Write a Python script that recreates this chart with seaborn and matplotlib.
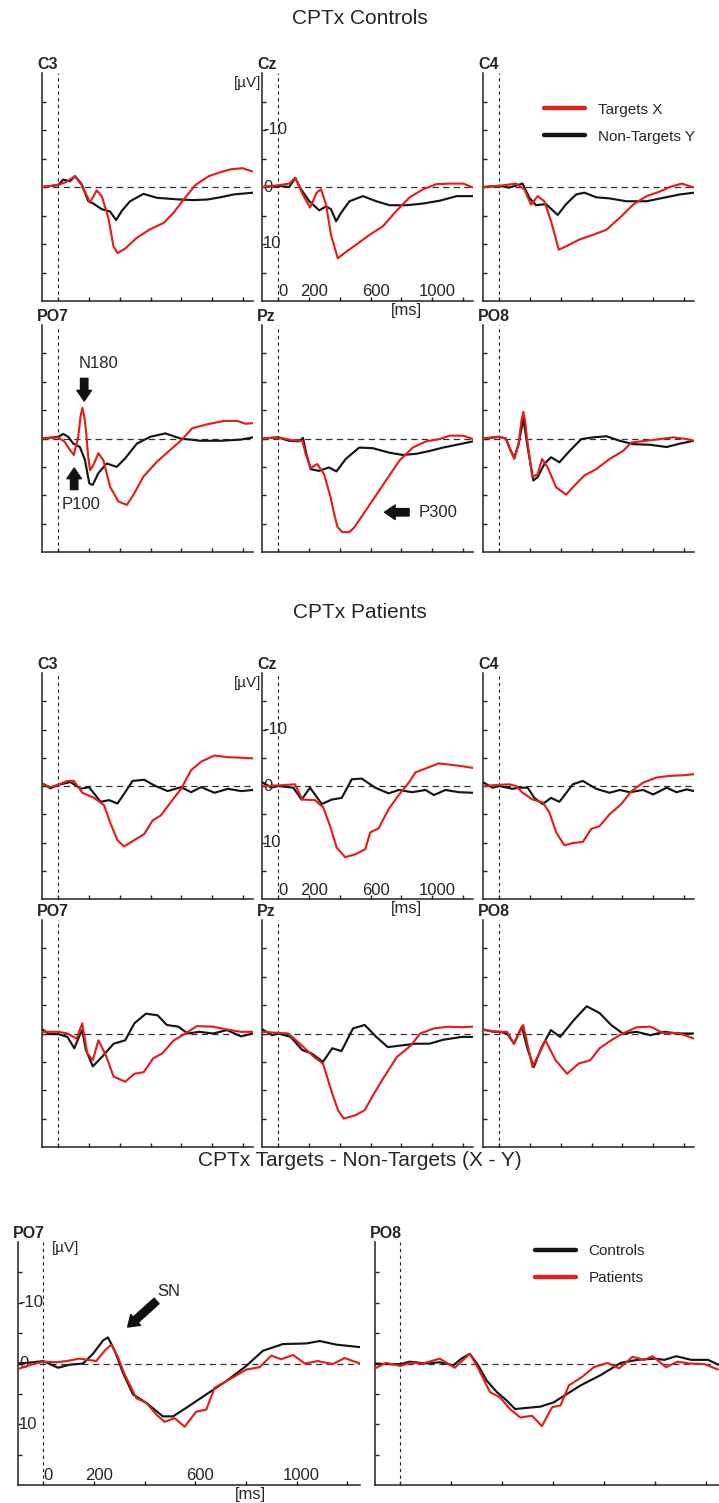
import matplotlib
matplotlib.use("Agg")
import matplotlib.pyplot as plt
import seaborn as sns
from matplotlib.lines import Line2D

sns.set_theme(style="white")
plt.rcParams["font.family"] = ["Liberation Sans", "DejaVu Sans"]

# ---------------- data (ms, µV; positive drawn downward) ----------------
# CPTx Controls
ctrl_c3_x_ms = [-100, 0, 54, 109, 152, 207, 250, 283, 326, 359, 385, 435, 511, 598, 685, 750, 815, 891, 978, 1054, 1120, 1196, 1265]
ctrl_c3_x_uv = [0, -0.35, -0.9, -1.9, -0.35, 2.7, 0.6, 1.6, 5.4, 10.4, 11.6, 10.8, 8.9, 7.4, 6.3, 4.5, 2.2, -0.35, -1.9, -2.6, -3.1, -3.3, -2.7]
ctrl_c3_y_ms = [-100, 0, 33, 76, 109, 152, 196, 228, 283, 337, 376, 413, 467, 554, 641, 793, 880, 967, 1054, 1141, 1265]
ctrl_c3_y_uv = [0, -0.35, -1.3, -1.0, -1.9, -0.5, 2.5, 2.9, 3.9, 4.3, 5.8, 4.2, 2.5, 1.2, 1.9, 2.2, 2.3, 2.2, 1.8, 1.3, 1.0]

ctrl_cz_x_ms = [-100, 0, 72, 111, 159, 207, 250, 278, 311, 343, 387, 430, 507, 593, 680, 767, 854, 941, 1028, 1115, 1202, 1265]
ctrl_cz_x_uv = [0, -0.3, -0.6, -1.6, 1.3, 3.6, 1.0, 0.4, 3.1, 8.4, 12.5, 11.6, 10.1, 8.4, 6.9, 4.2, 1.8, 0.4, -0.5, -0.6, -0.6, 0.1]
ctrl_cz_y_ms = [-100, 0, 72, 111, 148, 202, 267, 311, 343, 376, 409, 463, 550, 637, 724, 833, 941, 1050, 1159, 1265]
ctrl_cz_y_uv = [0, -0.2, 0, -1.6, 0.4, 2.5, 4.1, 3.4, 3.9, 6.0, 4.5, 2.5, 1.6, 2.5, 3.2, 3.2, 2.9, 2.4, 1.6, 1.6]

ctrl_c4_x_ms = [-100, 0, 109, 163, 207, 250, 293, 337, 387, 435, 522, 609, 696, 783, 870, 957, 1043, 1109, 1185, 1265]
ctrl_c4_x_uv = [0, -0.2, -0.6, 0.4, 3.1, 1.6, 2.5, 6.0, 11.0, 10.4, 9.2, 8.4, 7.5, 5.4, 3.1, 1.6, 0.8, 0.0, -0.6, 0.1]
ctrl_c4_y_ms = [-100, 0, 65, 152, 196, 239, 304, 380, 435, 500, 554, 630, 717, 826, 957, 1065, 1174, 1265]
ctrl_c4_y_uv = [0, -0.2, 0.1, -0.6, 1.9, 3.2, 3.0, 4.9, 3.0, 1.3, 1.0, 1.8, 2.0, 2.5, 2.5, 1.9, 1.3, 1.0]

ctrl_po7_x_ms = [-100, 0, 43, 76, 102, 130, 145, 157, 170, 180, 195, 207, 228, 261, 293, 337, 391, 446, 489, 554, 641, 728, 804, 870, 967, 1076, 1163, 1217, 1265]
ctrl_po7_x_uv = [0, -0.2, 0.6, 2.0, 2.9, -0.3, -3.8, -5.4, -3.8, -1.5, 3.2, 5.6, 4.7, 2.6, 3.8, 8.5, 11.1, 11.7, 9.9, 6.7, 4.1, 2.0, 0.2, -1.8, -2.5, -3.1, -3.1, -2.6, -2.7]
ctrl_po7_y_ms = [-100, 0, 33, 65, 98, 141, 174, 202, 224, 261, 315, 380, 435, 511, 598, 696, 793, 924, 1054, 1185, 1265]
ctrl_po7_y_uv = [0, -0.3, -0.8, -0.3, 0.9, 1.5, 3.8, 7.9, 8.2, 6.1, 4.4, 5.0, 3.5, 0.9, -0.3, -0.9, 0, 0.4, 0.4, 0.2, -0.2]

ctrl_pz_x_ms = [-100, 0, 91, 157, 178, 211, 254, 298, 341, 363, 385, 417, 461, 490, 526, 613, 700, 787, 874, 961, 1048, 1113, 1200, 1265]
ctrl_pz_x_uv = [0, -0.2, 0.3, 0.4, 2.7, 5.2, 4.5, 6.3, 10.4, 13.2, 15.6, 16.5, 16.5, 15.8, 14.4, 10.9, 7.4, 3.9, 1.6, 0.5, 0.1, -0.5, -0.5, 0.1]
ctrl_pz_y_ms = [-100, 0, 70, 135, 161, 183, 211, 265, 330, 378, 439, 526, 613, 722, 809, 896, 983, 1070, 1178, 1265]
ctrl_pz_y_uv = [0, -0.2, 0.4, 0.5, -0.1, 2.7, 5.4, 5.7, 5.1, 5.8, 3.6, 1.6, 1.7, 2.5, 2.9, 2.7, 2.2, 1.6, 1.0, 0.5]

ctrl_po8_x_ms = [-100, 0, 43, 76, 98, 126, 145, 157, 168, 180, 215, 250, 278, 315, 370, 435, 489, 554, 630, 717, 804, 859, 957, 1043, 1130, 1217, 1265]
ctrl_po8_x_uv = [0, -0.3, 0, 2.2, 3.6, 1.0, -3.2, -4.7, -3.2, -0.2, 6.8, 6.3, 3.6, 5.1, 8.6, 9.9, 8.3, 6.5, 5.4, 3.6, 2.2, 0.7, 0.4, 0.1, -0.2, 0.1, 0.4]
ctrl_po8_y_ms = [-100, 0, 43, 76, 98, 126, 157, 185, 222, 250, 293, 337, 391, 457, 533, 609, 696, 783, 870, 978, 1087, 1174, 1265]
ctrl_po8_y_uv = [0, -0.3, 0, 2.2, 3.4, 1.0, -3.5, 1.6, 7.4, 6.8, 4.5, 3.3, 4.2, 2.2, 0.1, -0.2, -0.4, 0.4, 1.0, 1.1, 1.5, 0.9, 0.4]

# CPTx Patients
pat_c3_x_ms = [-100, -50, 0, 59, 102, 157, 233, 298, 341, 385, 428, 493, 559, 613, 667, 733, 798, 863, 928, 1015, 1102, 1189, 1265]
pat_c3_x_uv = [-0.3, 0.2, -0.2, -0.9, -0.9, 1.2, 2.1, 3.4, 6.7, 9.6, 10.7, 9.6, 8.5, 6.1, 5.2, 2.8, 0.5, -2.8, -4.3, -5.4, -5.1, -5.0, -4.9]
pat_c3_y_ms = [-100, -50, 0, 80, 146, 200, 276, 330, 385, 428, 483, 559, 624, 711, 798, 863, 928, 1015, 1102, 1189, 1265]
pat_c3_y_uv = [-0.4, 0.4, -0.2, -0.7, 0.5, 0.2, 2.8, 2.5, 3.1, 1.4, -0.9, -1.1, -0.1, 0.9, 0.2, 1.1, 0.2, 1.2, 0.5, 0.9, 0.7]

pat_cz_x_ms = [-100, 0, 109, 157, 239, 293, 337, 380, 435, 500, 565, 598, 652, 717, 783, 848, 891, 957, 1043, 1109, 1196, 1265]
pat_cz_x_uv = [0, -0.1, -0.3, 2.4, 2.5, 3.8, 7.1, 10.9, 12.6, 12.1, 11.2, 8.2, 7.5, 4.1, 1.6, -0.6, -2.4, -3.1, -4.0, -3.8, -3.5, -3.2]
pat_cz_y_ms = [-100, -43, 0, 98, 152, 207, 283, 348, 413, 478, 543, 630, 717, 783, 870, 957, 1011, 1087, 1174, 1265]
pat_cz_y_uv = [-0.6, 0.3, 0, 0.3, 2.4, 0.3, 3.2, 2.4, 2.1, -1.2, -1.3, 0.3, 1.3, 0.7, 1.1, 0.7, 1.6, 0.7, 1.1, 1.2]

pat_c4_x_ms = [-100, 0, 65, 109, 152, 217, 283, 326, 370, 424, 478, 543, 598, 652, 717, 793, 859, 935, 1022, 1109, 1196, 1265]
pat_c4_x_uv = [0, -0.2, -0.3, 0, 1.2, 2.4, 2.9, 4.7, 8.2, 10.5, 10.1, 9.9, 7.6, 7.1, 5.0, 3.2, 0.9, -0.6, -1.5, -1.8, -1.9, -2.1]
pat_c4_y_ms = [-100, -43, 0, 87, 130, 185, 228, 283, 337, 391, 478, 543, 630, 717, 783, 848, 935, 1000, 1087, 1152, 1217, 1265]
pat_c4_y_uv = [-0.6, 0.3, 0, 0.5, 0.3, 0.3, 2.1, 3.2, 2.1, 2.8, -0.3, -0.9, 0.5, 1.2, 0.7, 1.1, 0.7, 1.5, 0.3, 1.1, 0.6, 0.9]

pat_po7_x_ms = [-100, 0, 60, 120, 156, 189, 225, 261, 309, 360, 435, 495, 556, 616, 676, 751, 826, 901, 1006, 1096, 1186, 1265]
pat_po7_x_uv = [-0.3, -0.3, 0, 0.9, -1.8, 3.5, 4.7, 1.2, 3.8, 7.6, 8.5, 7.1, 6.8, 4.4, 3.5, 1.2, 0, -1.3, -1.2, -0.7, -0.3, -0.3]
pat_po7_y_ms = [-100, -60, 0, 60, 105, 135, 156, 180, 225, 285, 360, 435, 495, 570, 646, 706, 781, 841, 916, 1006, 1096, 1186, 1265]
pat_po7_y_uv = [-0.7, 0.1, 0.1, 0.6, 2.6, 0.6, -0.6, 2.9, 5.8, 4.1, 1.8, 1.2, -1.8, -3.5, -3.2, -1.5, -1.2, 0, -0.3, 0, -0.6, 0.5, 0]

pat_pz_x_ms = [-100, 0, 66, 141, 231, 291, 351, 390, 426, 502, 562, 622, 682, 772, 862, 922, 1012, 1102, 1192, 1265]
pat_pz_x_uv = [-0.3, -0.1, 0, 1.8, 4.1, 5.3, 10.6, 13.6, 15.0, 14.4, 13.5, 10.6, 7.9, 4.1, 2.1, 0, -0.9, -1.2, -1.1, -1.2]
pat_pz_y_ms = [-100, -39, 0, 81, 156, 216, 291, 351, 411, 486, 562, 637, 712, 802, 892, 982, 1072, 1192, 1265]
pat_pz_y_uv = [-0.7, 0.3, 0, 0.6, 2.9, 3.5, 5.0, 2.6, 3.1, -0.9, -1.5, 0.6, 2.4, 2.1, 1.8, 1.8, 1.1, 0.6, 0.6]

pat_po8_x_ms = [-100, 0, 51, 96, 156, 216, 261, 300, 366, 441, 516, 592, 652, 727, 802, 892, 982, 1072, 1162, 1265]
pat_po8_x_uv = [-0.6, -0.3, -0.3, 1.8, -1.5, 5.9, 3.5, 1.2, 4.7, 7.1, 5.3, 4.7, 2.6, 1.2, 0, -1.1, -1.2, 0, -0.1, 0.9]
pat_po8_y_ms = [-100, -39, 0, 51, 96, 147, 186, 225, 276, 336, 396, 486, 568, 652, 727, 802, 892, 982, 1072, 1162, 1265]
pat_po8_y_uv = [-0.7, -0.3, -0.3, 0, 1.8, -1.2, 2.9, 5.9, 2.4, -0.6, 0.6, -2.4, -4.8, -3.6, -1.5, 0, -0.3, 0.3, -0.3, 0, 0]

# CPTx Targets - Non-Targets (X - Y)
diff_po7_ctrl_ms = [-100, -41, 0, 58, 104, 157, 196, 236, 255, 282, 314, 354, 407, 472, 512, 564, 643, 722, 801, 867, 946, 1038, 1091, 1157, 1249]
diff_po7_ctrl_uv = [0, -0.2, -0.4, 0.7, 0.2, 0, -1.6, -3.8, -4.3, -2.1, 1.5, 5.1, 6.5, 8.7, 8.7, 7.3, 5.1, 2.9, 0.4, -2.1, -3.2, -3.3, -3.7, -3.1, -2.7]
diff_po7_pat_ms = [-100, -41, 0, 51, 91, 143, 209, 242, 268, 295, 321, 367, 407, 446, 479, 518, 558, 604, 643, 676, 736, 801, 854, 900, 939, 986, 1032, 1084, 1143, 1189, 1249]
diff_po7_pat_uv = [0.9, 0.1, -0.3, -0.2, -0.4, -0.8, -0.4, -2.1, -3.1, -1.0, 1.8, 5.7, 6.5, 8.4, 9.6, 9.0, 10.4, 7.9, 7.6, 4.0, 2.6, 1.0, 0.6, -1.3, -0.7, -1.4, 0, -0.4, 0.1, -0.9, 0]
diff_po8_ctrl_ms = [-100, -57, 0, 36, 101, 154, 207, 239, 272, 305, 338, 378, 417, 450, 496, 549, 601, 654, 707, 786, 864, 930, 996, 1036, 1082, 1141, 1207, 1253]
diff_po8_ctrl_uv = [0, 0.1, 0.1, -0.3, 0, -0.2, 0.3, -0.8, -1.6, 0.3, 2.8, 4.7, 6.1, 7.5, 7.3, 7.1, 6.4, 5.0, 3.6, 1.9, -0.1, -0.6, -0.8, -0.6, -1.2, -0.6, -0.6, 0.3]
diff_po8_pat_ms = [-100, -57, 0, 36, 88, 154, 213, 272, 305, 351, 391, 430, 470, 516, 555, 595, 628, 661, 713, 759, 812, 858, 911, 957, 989, 1042, 1088, 1134, 1193, 1246]
diff_po8_pat_uv = [0.8, -0.1, 0.4, -0.1, 0, -0.8, 0.7, -1.6, 0.8, 4.7, 5.6, 7.5, 8.9, 8.6, 10.3, 7.2, 6.9, 3.6, 2.2, 0.6, -0.1, 0.8, -1.1, -0.6, -1.2, 0.6, -0.3, 0, 0.1, 1.0]

# ticks / labels
x_ticks = [0, 200, 400, 600, 800, 1000, 1200]
y_ticks = [-15, -10, -5, 0, 5, 10, 15]
x_label_vals = [0, 200, 600, 1000]
x_label_txt = ["0", "200", "600", "1000"]
y_label_vals = [-10, 0, 10]
y_label_txt = ["-10", "0", "10"]

RED = "#e31f1c"
BLK = "#151515"

# ---------------- layout ----------------
W, H = 719, 1503
fig = plt.figure(figsize=(W / 100, H / 100), dpi=100)


def add_ax(l, t, r, b):
    return fig.add_axes([l / W, 1 - b / H, (r - l) / W, (b - t) / H])


def panel(ax, name, series, xlim):
    for ms, uv, col in series:
        sns.lineplot(x=ms, y=uv, ax=ax, color=col, lw=1.55, estimator=None,
                     sort=False, zorder=4)
    ax.axhline(0, color="#333333", lw=0.9, ls=(0, (5, 3.5)), zorder=2)
    ax.axvline(0, color="#222222", lw=0.8, ls=(0, (3, 3)), zorder=2)
    ax.set_xlim(*xlim)
    ax.set_ylim(20, -20)
    ax.set_xticks(x_ticks)
    ax.set_yticks(y_ticks)
    ax.set_xticklabels([])
    ax.set_yticklabels([])
    ax.set_xlabel("")
    ax.set_ylabel("")
    ax.tick_params(direction="in", length=3, width=1, colors="#222222",
                   bottom=True, left=True)
    for s in ["top", "right"]:
        ax.spines[s].set_visible(False)
    for s in ["left", "bottom"]:
        ax.spines[s].set_color("#222222")
        ax.spines[s].set_linewidth(1.1)
    ax.patch.set_alpha(0)
    ax.annotate(name, xy=(0, 1), xycoords="axes fraction", xytext=(-5, 1),
                textcoords="offset pixels", ha="left", va="bottom",
                fontsize=11.5, fontweight="bold", annotation_clip=False)
    if ax.get_legend() is not None:
        ax.get_legend().remove()


def value_labels(ax):
    for v, lab in zip(y_label_vals, y_label_txt):
        ax.annotate(lab, xy=(0, v), xycoords=("axes fraction", "data"),
                    xytext=(1, 0), textcoords="offset pixels", ha="left",
                    va="center", fontsize=12, zorder=1)
    for t, lab in zip(x_label_vals, x_label_txt):
        ax.annotate(lab, xy=(t, 0), xycoords=("data", "axes fraction"),
                    xytext=(5, 9), textcoords="offset pixels", ha="center",
                    va="center", fontsize=12, zorder=1)


def uv_unit(ax, dx=-1):
    ax.annotate("[µV]", xy=(0, 1), xycoords="axes fraction", xytext=(dx, -3),
                textcoords="offset pixels", ha="right", va="top", fontsize=11)


def ms_unit(ax, frac):
    ax.annotate("[ms]", xy=(frac, 0), xycoords="axes fraction", xytext=(0, -2),
                textcoords="offset pixels", ha="center", va="top", fontsize=12,
                annotation_clip=False)


XL_TOP = (-105, 1265)
cols = [42, 262, 483]
cw = 211
rows = [(73, 301), (325, 552), (673, 899), (920, 1147)]

grid = [
    [("C3", ctrl_c3_x_ms, ctrl_c3_x_uv, ctrl_c3_y_ms, ctrl_c3_y_uv),
     ("Cz", ctrl_cz_x_ms, ctrl_cz_x_uv, ctrl_cz_y_ms, ctrl_cz_y_uv),
     ("C4", ctrl_c4_x_ms, ctrl_c4_x_uv, ctrl_c4_y_ms, ctrl_c4_y_uv)],
    [("PO7", ctrl_po7_x_ms, ctrl_po7_x_uv, ctrl_po7_y_ms, ctrl_po7_y_uv),
     ("Pz", ctrl_pz_x_ms, ctrl_pz_x_uv, ctrl_pz_y_ms, ctrl_pz_y_uv),
     ("PO8", ctrl_po8_x_ms, ctrl_po8_x_uv, ctrl_po8_y_ms, ctrl_po8_y_uv)],
    [("C3", pat_c3_x_ms, pat_c3_x_uv, pat_c3_y_ms, pat_c3_y_uv),
     ("Cz", pat_cz_x_ms, pat_cz_x_uv, pat_cz_y_ms, pat_cz_y_uv),
     ("C4", pat_c4_x_ms, pat_c4_x_uv, pat_c4_y_ms, pat_c4_y_uv)],
    [("PO7", pat_po7_x_ms, pat_po7_x_uv, pat_po7_y_ms, pat_po7_y_uv),
     ("Pz", pat_pz_x_ms, pat_pz_x_uv, pat_pz_y_ms, pat_pz_y_uv),
     ("PO8", pat_po8_x_ms, pat_po8_x_uv, pat_po8_y_ms, pat_po8_y_uv)],
]

axes = {}
for ri, (top, bot) in enumerate(rows):
    for ci, left in enumerate(cols):
        name, xm, xv, ym, yv = grid[ri][ci]
        ax = add_ax(left, top, left + cw, bot)
        panel(ax, name, [(ym, yv, BLK), (xm, xv, RED)], XL_TOP)
        axes[(ri, ci)] = ax

for ri in (0, 2):
    ax = axes[(ri, 1)]
    value_labels(ax)
    uv_unit(ax)
    ms_unit(ax, 0.685)

# legend (Controls C4)
axes[(0, 2)].legend(
    handles=[Line2D([], [], color=RED, lw=3.2), Line2D([], [], color=BLK, lw=3.2)],
    labels=["Targets X", "Non-Targets Y"], loc="upper left",
    bbox_to_anchor=(0.29, 0.87), frameon=False, fontsize=11,
    handlelength=2.7, handletextpad=0.8, labelspacing=0.85, borderpad=0,
    borderaxespad=0)

# component annotations
ARW = dict(arrowstyle="simple,head_length=0.55,head_width=0.75,tail_width=0.38",
           fc="#111111", ec="#111111", shrinkA=0, shrinkB=0, mutation_scale=14)
ax = axes[(1, 0)]
ax.annotate("", xy=(169, -6.6), xytext=(169, -10.6), arrowprops=ARW)
ax.text(260, -13.3, "N180", ha="center", va="center", fontsize=12)
ax.annotate("", xy=(104, 5.2), xytext=(104, 9.0), arrowprops=ARW)
ax.text(150, 11.6, "P100", ha="center", va="center", fontsize=12)
ax = axes[(1, 1)]
ax.annotate("", xy=(690, 13.0), xytext=(850, 13.0), arrowprops=ARW)
ax.text(1040, 13.0, "P300", ha="center", va="center", fontsize=12)

# bottom difference waves
XL_BOT = (-100, 1250)
axd7 = add_ax(18, 1242, 360, 1485)
panel(axd7, "PO7", [(diff_po7_ctrl_ms, diff_po7_ctrl_uv, BLK),
                    (diff_po7_pat_ms, diff_po7_pat_uv, RED)], XL_BOT)
axd8 = add_ax(375, 1242, 719, 1485)
panel(axd8, "PO8", [(diff_po8_ctrl_ms, diff_po8_ctrl_uv, BLK),
                    (diff_po8_pat_ms, diff_po8_pat_uv, RED)], XL_BOT)
value_labels(axd7)
axd7.annotate("[µV]", xy=(0, 1), xycoords=("data", "axes fraction"),
              xytext=(9, 1), textcoords="offset pixels", ha="left", va="top",
              fontsize=11)
ms_unit(axd7, 0.68)
axd7.annotate("", xy=(333, -6.0), xytext=(447, -10.3), arrowprops=ARW)
axd7.text(494, -11.8, "SN", ha="center", va="center", fontsize=12)
axd8.legend(
    handles=[Line2D([], [], color=BLK, lw=3.2), Line2D([], [], color=RED, lw=3.2)],
    labels=["Controls", "Patients"], loc="upper left",
    bbox_to_anchor=(0.465, 0.99), frameon=False, fontsize=11,
    handlelength=2.7, handletextpad=0.8, labelspacing=0.85, borderpad=0,
    borderaxespad=0)

# titles
fig.text(0.5, 1 - 18 / H, "CPTx Controls", ha="center", va="center", fontsize=15)
fig.text(0.5, 1 - 612 / H, "CPTx Patients", ha="center", va="center", fontsize=15)
fig.text(0.5, 1 - 1160 / H, "CPTx Targets - Non-Targets (X - Y)", ha="center",
         va="center", fontsize=15)

fig.savefig("out.png", dpi=100, facecolor="white")
